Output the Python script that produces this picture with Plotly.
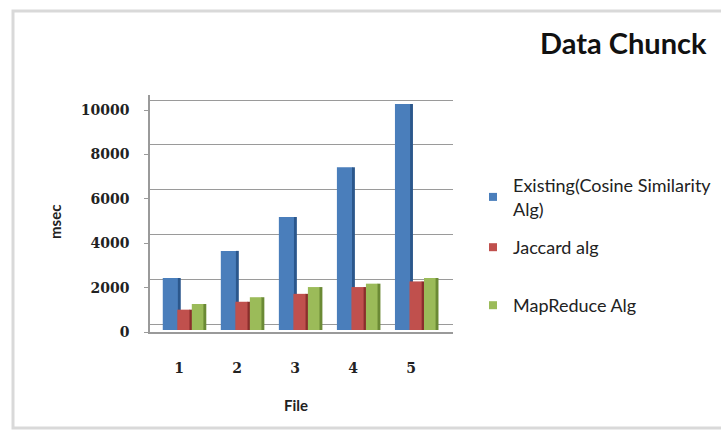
import plotly.graph_objects as go

# Chart data
files = [1, 2, 3, 4, 5]
tick_labels = ["1", "2", "3", "4", "5"]
existing = [2300, 3500, 5000, 7200, 10000]
jaccard = [900, 1250, 1600, 1900, 2150]
mapreduce = [1150, 1450, 1900, 2050, 2300]
y_ticks = [0, 2000, 4000, 6000, 8000, 10000]

series = [
    # name, values, face colour, side colour, face offset, face width, legend text
    ("Existing(Cosine Similarity Alg)", existing, "#4a7ebb", "#2b578c", -0.28, 0.27,
     "Existing(Cosine Similarity<br>Alg)"),
    ("Jaccard alg", jaccard, "#c0504d", "#8a2e2c", -0.03, 0.22, "Jaccard alg"),
    ("MapReduce Alg", mapreduce, "#9bbb59", "#6b8a35", 0.22, 0.21, "MapReduce Alg"),
]

W, H = 721, 439


def px_x(p):
    return p / W


def px_y(p):
    return 1 - p / H


# vertical layout (pixels from the top of the page)
dom_top, dom_bot = 95, 332


def axis_range(zero_px, top_px):
    """Range for an axis sharing the domain so that 0 lands on zero_px
    and 10000 lands on top_px."""
    k = (zero_px - top_px) / 10000.0
    r0 = -(dom_bot - zero_px) / k
    r1 = r0 + (dom_bot - dom_top) / k
    return [r0, r1]


bar_range = axis_range(330, 104)     # bar faces
grid_range = axis_range(324, 100)    # back wall: gridlines
label_range = axis_range(332, 110)   # front edge: tick labels

fig = go.Figure()

side_w = 0.05
for name, vals, face, side, off, wid, _ in series:
    fig.add_trace(go.Bar(
        x=files, y=vals, name=name, offset=off, width=wid,
        marker=dict(color=face, line=dict(width=0)),
        showlegend=False, hoverinfo="x+y+name",
    ))
    # darker right-hand face for a bit of depth
    fig.add_trace(go.Bar(
        x=files, y=vals, name=name, offset=off + wid - 0.01, width=side_w,
        marker=dict(color=side, line=dict(width=0)),
        showlegend=False, hoverinfo="skip",
    ))

# legend entries, each in its own legend box
legend_rows = [181, 243, 301]
for i, (name, vals, face, side, off, wid, label) in enumerate(series):
    key = "legend" if i == 0 else f"legend{i + 1}"
    fig.add_trace(go.Scatter(
        x=[None], y=[None], mode="markers", name=label,
        marker=dict(symbol="square", size=8, color=face),
        legend=key, showlegend=True,
    ))

# invisible traces so the overlaid axes get drawn
fig.add_trace(go.Scatter(x=[None], y=[None], yaxis="y2", showlegend=False, hoverinfo="skip"))
fig.add_trace(go.Scatter(x=[None], y=[None], yaxis="y3", showlegend=False, hoverinfo="skip"))

legend_common = dict(
    xanchor="left", yanchor="top", bgcolor="rgba(0,0,0,0)",
    font=dict(family="Lato", size=18, color="#222222"),
    itemwidth=30, borderwidth=0, tracegroupgap=0,
)
fig.update_layout(
    legend=dict(x=px_x(473), y=px_y(legend_rows[0] - 14), **legend_common),
    legend2=dict(x=px_x(473), y=px_y(legend_rows[1] - 14), **legend_common),
    legend3=dict(x=px_x(473), y=px_y(legend_rows[2] - 14), **legend_common),
)

tick_font = dict(family="DejaVu Serif", size=14, color="#222222")
y_domain = [px_y(dom_bot), px_y(dom_top)]

fig.update_layout(
    width=W, height=H,
    margin=dict(l=0, r=0, t=0, b=0, autoexpand=False),
    paper_bgcolor="white", plot_bgcolor="white",
    barmode="overlay",
    showlegend=True,
    xaxis=dict(
        domain=[px_x(150), px_x(453)],
        range=[0.5, 5.72],
        tickmode="array", tickvals=files, ticktext=[f"<b>{t}</b>" for t in tick_labels],
        tickfont=tick_font, ticks="", ticklabelstandoff=22,
        showgrid=False, zeroline=False, automargin=False,
        showline=True, linecolor="#9a9a9a", linewidth=1.5,
    ),
    # bar faces
    yaxis=dict(
        domain=y_domain, range=bar_range,
        showticklabels=False, showgrid=False, zeroline=False, showline=False,
        automargin=False,
    ),
    # back-wall gridlines, sitting a few pixels above the front edge
    yaxis2=dict(
        overlaying="y", range=grid_range,
        tickmode="array", tickvals=y_ticks, showticklabels=False,
        showgrid=True, gridcolor="#9a9a9a", gridwidth=1.4,
        zeroline=False, showline=False, automargin=False,
    ),
    # front edge with the value labels
    yaxis3=dict(
        overlaying="y", side="left", range=label_range,
        tickmode="array", tickvals=y_ticks, ticktext=[f"<b>{v}</b>" for v in y_ticks],
        tickfont=tick_font, ticks="outside", ticklen=4, tickcolor="#9a9a9a",
        ticklabelstandoff=12,
        showgrid=False, zeroline=False, automargin=False,
        showline=True, linecolor="#9a9a9a", linewidth=1.5,
    ),
)

# outer frame
fig.add_shape(type="rect", xref="paper", yref="paper",
              x0=px_x(13), x1=px_x(740), y0=px_y(428), y1=px_y(11),
              line=dict(color="#d9d9d9", width=3), fillcolor="rgba(0,0,0,0)", layer="below")

# title and axis titles
fig.add_annotation(text="<b>Data Chunck</b>", xref="paper", yref="paper",
                   x=px_x(623), y=px_y(42), xanchor="center", yanchor="middle",
                   showarrow=False,
                   font=dict(family="Lato", size=29, color="#111111"))
fig.add_annotation(text="<b>File</b>", xref="paper", yref="paper",
                   x=px_x(296), y=px_y(405), xanchor="center", yanchor="middle",
                   showarrow=False,
                   font=dict(family="Lato", size=15, color="#222222"))
fig.add_annotation(text="<b>msec</b>", xref="paper", yref="paper",
                   x=px_x(55), y=px_y(222), xanchor="center", yanchor="middle",
                   showarrow=False, textangle=-90,
                   font=dict(family="Lato", size=15, color="#222222"))

fig.write_html("out.html")
